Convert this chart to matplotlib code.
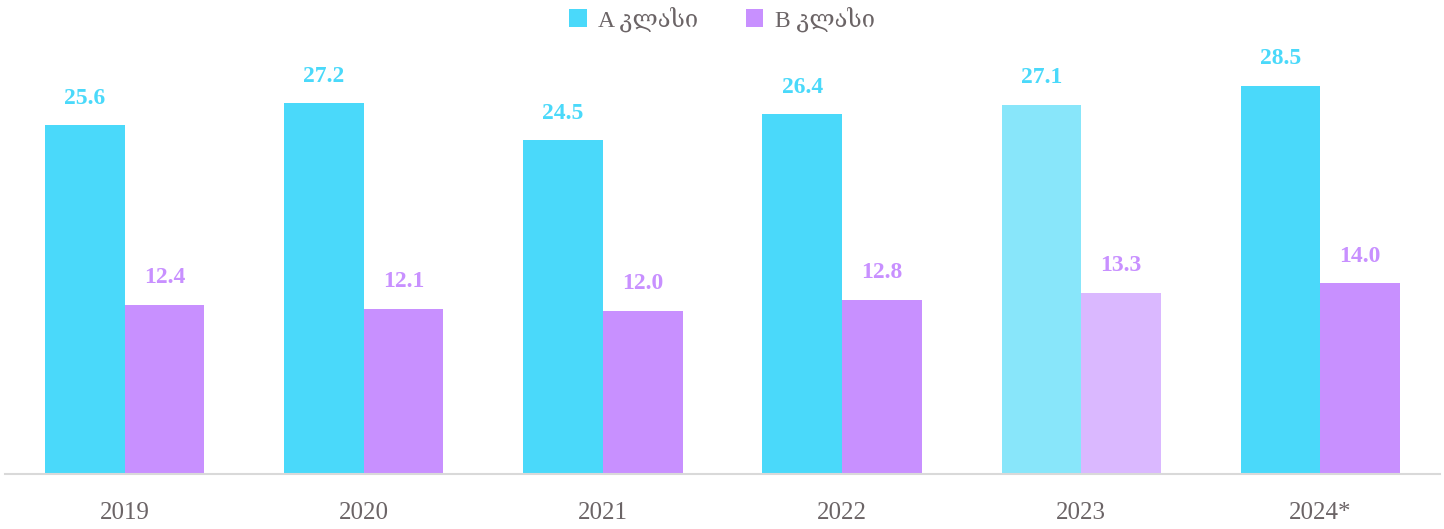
import matplotlib.pyplot as plt
import numpy as np

years = ['2019', '2020', '2021', '2022', '2023', '2024*']
class_a = [25.6, 27.2, 24.5, 26.4, 27.1, 28.5]
class_b = [12.4, 12.1, 12.0, 12.8, 13.3, 14.0]
labels = ['A კლასი', 'B კლასი']

col_a = '#4ad9fa'
col_b = '#c890ff'
col_a_light = '#88e6fa'
col_b_light = '#dab8ff'
grey = '#6b6466'
serif = ['Liberation Serif', 'DejaVu Serif', 'DejaVu Sans']

fig = plt.figure(figsize=(14.44, 5.29), dpi=100)
ax = fig.add_axes([5 / 1444, 55 / 529, 1435 / 1444, 436 / 529])

x = np.arange(len(years))
w = 0.333
cols_a = [col_a_light if y == '2023' else col_a for y in years]
cols_b = [col_b_light if y == '2023' else col_b for y in years]
bars_a = ax.bar(x - w / 2, class_a, w, color=cols_a, label=labels[0])
bars_b = ax.bar(x + w / 2, class_b, w, color=cols_b, label=labels[1])

for bars, vals, c in [(bars_a, class_a, col_a), (bars_b, class_b, col_b)]:
    for b, v in zip(bars, vals):
        ax.annotate(f'{v:.1f}', (b.get_x() + b.get_width() / 2, v),
                    xytext=(0, 12), textcoords='offset points',
                    ha='center', va='bottom', color=c,
                    fontsize=17, fontweight='bold', family=serif)

ax.set_xlim(-0.5, 5.5)
ax.set_ylim(0, 32)
ax.set_xticks(x)
ax.set_xticklabels(years, family=serif, fontsize=18, color=grey)
ax.tick_params(axis='x', length=0, pad=20)
ax.set_yticks([])
for s in ['left', 'right', 'top']:
    ax.spines[s].set_visible(False)
ax.spines['bottom'].set_color('#d9d9d9')
ax.spines['bottom'].set_linewidth(1.5)

leg = fig.legend(loc='center', bbox_to_anchor=(0.5, 1 - 19 / 529), ncol=2,
                 frameon=False, handlelength=0.75, handleheight=0.75,
                 handletextpad=0.5, columnspacing=2.0,
                 prop={'family': serif, 'size': 17})
for t in leg.get_texts():
    t.set_color(grey)

fig.savefig('out.png', dpi=100)
